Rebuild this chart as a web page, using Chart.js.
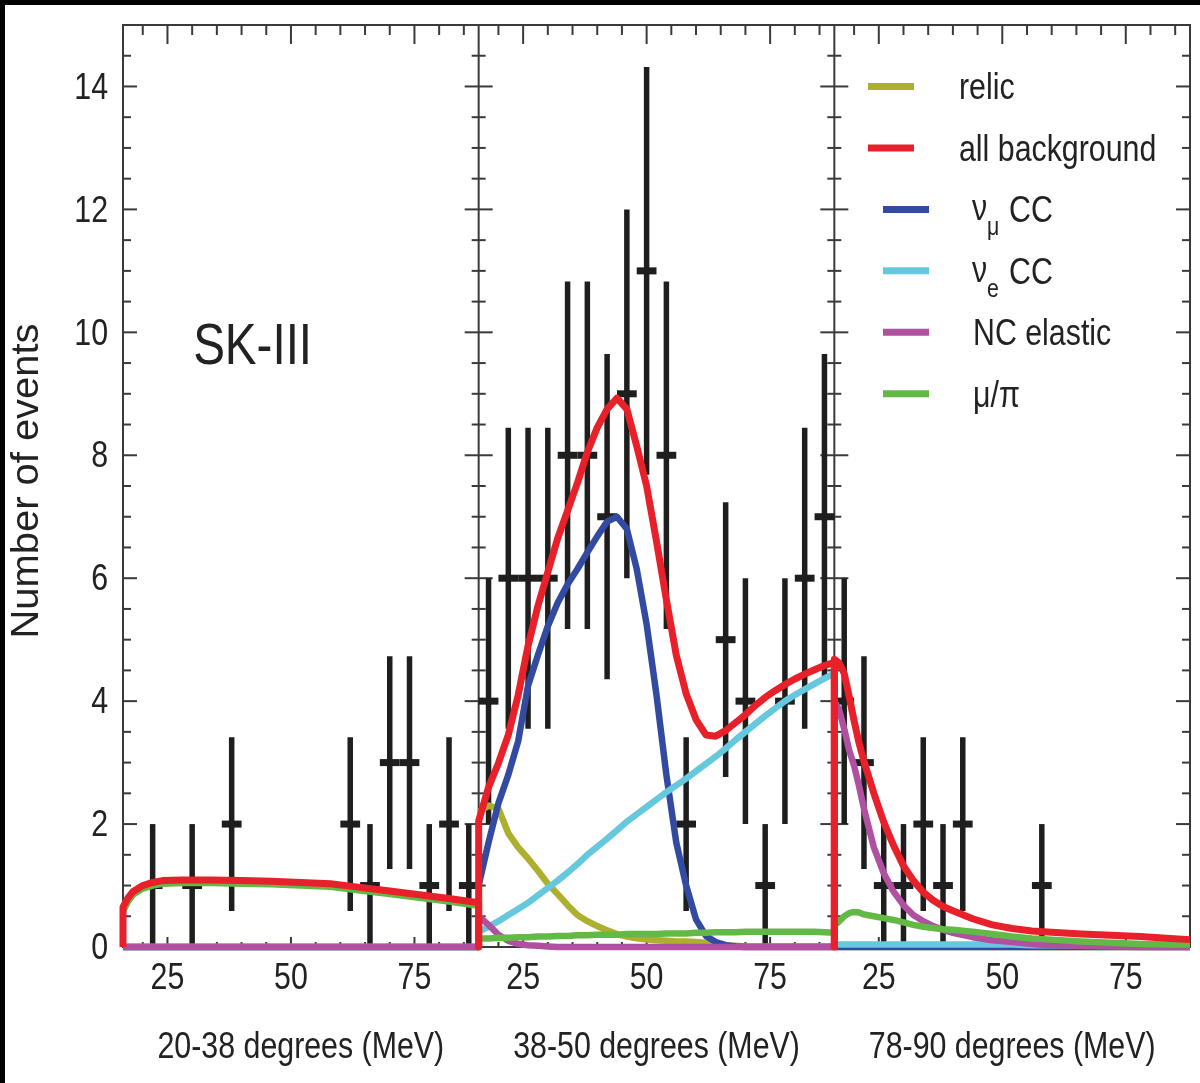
<!DOCTYPE html>
<html lang="en">
<head>
<meta charset="UTF-8">
<title>SK-III</title>
<style>
  html, body { margin: 0; padding: 0; background: #fff; }
  #wrap { position: relative; width: 1200px; height: 1083px; }
</style>
<script src="https://cdn.jsdelivr.net/npm/chart.js@4"></script>
</head>
<body>
<div id="wrap"><canvas id="viz" width="1200" height="1083"></canvas></div>
<script>
// three angle bins drawn side by side, each one spans 16-88 MeV
const panelTitles = ['20-38 degrees (MeV)', '38-50 degrees (MeV)', '78-90 degrees (MeV)']
const eLow = 16
const eHigh = 88
const xTickLabels = [25, 50, 75]
const yTickLabels = [0, 2, 4, 6, 8, 10, 12, 14]

// observed events, 4 MeV bins
const binCentres = [18, 22, 26, 30, 34, 38, 42, 46, 50, 54, 58, 62, 66, 70, 74, 78, 82, 86]
const countsA = [0, 1, 0, 1, 0, 2, 0, 0, 0, 0, 0, 2, 1, 3, 3, 1, 2, 1]
const countsB = [4, 6, 6, 6, 8, 8, 7, 9, 11, 8, 2, 0, 5, 4, 1, 4, 6, 7]
const countsC = [4, 3, 1, 1, 2, 1, 2, 0, 0, 0, 1, 0, 0, 0, 0, 0, 0, 0]

// expected spectra, 20-38 degrees
const energyA = [16, 17, 18, 20, 22, 24, 28, 34, 40, 46, 52, 58, 64, 70, 76, 82, 88]
const relicA  = [0, 0, 0, 0, 0, 0, 0, 0, 0, 0, 0, 0, 0, 0, 0, 0, 0]
const allBgA  = [0.65, 0.80, 0.90, 1.00, 1.05, 1.08, 1.09, 1.09, 1.08, 1.07, 1.05, 1.03, 0.97, 0.91, 0.85, 0.79, 0.72]
const numuA   = [0, 0, 0, 0, 0, 0, 0, 0, 0, 0, 0, 0, 0, 0, 0, 0, 0]
const nueA    = [0, 0, 0, 0, 0, 0, 0, 0, 0, 0, 0, 0, 0, 0, 0, 0, 0]
const ncA     = [0, 0, 0, 0, 0, 0, 0, 0, 0, 0, 0, 0, 0, 0, 0, 0, 0]
const muPiA   = [0.58, 0.74, 0.85, 0.95, 1.00, 1.03, 1.04, 1.04, 1.03, 1.02, 1.00, 0.98, 0.92, 0.86, 0.80, 0.74, 0.67]

// expected spectra, 38-50 degrees
const energyB = [16, 18, 20, 22, 24, 26, 28, 30, 32, 34, 36, 38, 40, 42, 44, 46, 48, 50, 52, 54,
                 56, 58, 60, 62, 64, 66, 68, 70, 72, 74, 76, 78, 80, 82, 84, 86, 88]
const relicB  = [2.2, 2.3, 2.25, 1.85, 1.62, 1.44, 1.24, 1.03, 0.86, 0.68, 0.52, 0.42, 0.34, 0.27, 0.21, 0.17, 0.14, 0.12, 0.11, 0.10,
                 0.09, 0.09, 0.08, 0.07, 0.05, 0.03, 0.02, 0.01, 0.01, 0.01, 0.01, 0.01, 0.01, 0.01, 0.01, 0.01, 0.01]
const allBgB  = [2.05, 2.6, 2.99, 3.45, 4.1, 4.9, 5.55, 6.1, 6.65, 7.1, 7.55, 8.05, 8.45, 8.75, 8.93, 8.75, 8.15, 7.5, 6.6, 5.65,
                 4.75, 4.12, 3.7, 3.45, 3.43, 3.52, 3.65, 3.78, 3.93, 4.06, 4.17, 4.27, 4.36, 4.44, 4.51, 4.58, 4.63]
const numuB   = [1.0, 1.7, 2.34, 2.8, 3.35, 4.25, 4.75, 5.22, 5.6, 5.9, 6.15, 6.42, 6.68, 6.92, 7.0, 6.8, 6.15, 5.25, 4.1, 2.8,
                 1.7, 1.0, 0.45, 0.18, 0.08, 0.03, 0.01, 0, 0, 0, 0, 0, 0, 0, 0, 0, 0]
const nueB    = [0.25, 0.33, 0.42, 0.52, 0.62, 0.72, 0.84, 0.96, 1.08, 1.21, 1.35, 1.5, 1.63, 1.76, 1.9, 2.04, 2.16, 2.28, 2.4, 2.52,
                 2.63, 2.74, 2.86, 2.98, 3.1, 3.23, 3.37, 3.5, 3.63, 3.76, 3.88, 4.0, 4.1, 4.19, 4.28, 4.37, 4.45]
const ncB     = [0.5, 0.36, 0.2, 0.1, 0.05, 0.03, 0.02, 0.01, 0, 0, 0, 0, 0, 0, 0, 0, 0, 0, 0, 0,
                 0, 0, 0, 0, 0, 0, 0, 0, 0, 0, 0, 0, 0, 0, 0, 0, 0]
const muPiB   = [0.14, 0.14, 0.15, 0.15, 0.16, 0.16, 0.17, 0.17, 0.18, 0.18, 0.19, 0.19, 0.2, 0.2, 0.2, 0.21, 0.21, 0.21, 0.21, 0.22,
                 0.22, 0.22, 0.23, 0.23, 0.24, 0.24, 0.24, 0.25, 0.25, 0.25, 0.25, 0.25, 0.25, 0.25, 0.25, 0.24, 0.23]

// expected spectra, 78-90 degrees
const energyC = [16, 17, 18, 19, 20, 21, 22, 24, 26, 28, 30, 32, 34, 36, 38, 40, 44, 48, 52, 56, 60, 66, 72, 78, 84, 88]
const relicC  = [0, 0, 0, 0, 0, 0, 0, 0, 0, 0, 0, 0, 0, 0, 0, 0, 0, 0, 0, 0, 0, 0, 0, 0, 0, 0]
const allBgC  = [4.68, 4.62, 4.45, 4.08, 3.68, 3.32, 3.02, 2.5, 2.03, 1.65, 1.32, 1.08, 0.89, 0.76, 0.66, 0.59, 0.46, 0.36, 0.30, 0.26,
                 0.24, 0.21, 0.19, 0.17, 0.14, 0.12]
const numuC   = [0, 0, 0, 0, 0, 0, 0, 0, 0, 0, 0, 0, 0, 0, 0, 0, 0, 0, 0, 0, 0, 0, 0, 0, 0, 0]
const nueC    = [0.04, 0.04, 0.04, 0.04, 0.04, 0.04, 0.04, 0.04, 0.04, 0.04, 0.04, 0.04, 0.04, 0.04, 0.04, 0.04, 0.04, 0.04, 0.04, 0.03,
                 0.03, 0.03, 0.02, 0.02, 0.02, 0.02]
const ncC     = [4.0, 3.85, 3.55, 3.2, 2.95, 2.62, 2.25, 1.62, 1.2, 0.9, 0.68, 0.52, 0.42, 0.34, 0.28, 0.23, 0.16, 0.11, 0.08, 0.05,
                 0.03, 0.02, 0.01, 0, 0, 0]
const muPiC   = [0.35, 0.42, 0.5, 0.55, 0.57, 0.56, 0.53, 0.5, 0.47, 0.44, 0.4, 0.36, 0.33, 0.31, 0.29, 0.28, 0.25, 0.21, 0.17, 0.14,
                 0.12, 0.09, 0.07, 0.05, 0.04, 0.04]

const sans = '"Liberation Sans", Arial, Helvetica, sans-serif'
const inkColor = '#222'
const frameColor = '#3a3a3a'
const pointColor = '#1e1e1e'

// legend order; drawing order comes from `order` (lower = on top)
const components = [
  { key: 'relic', label: 'relic', color: '#acb02e', order: 6, width: 6.5 },
  { key: 'allBg', label: 'all background', color: '#e8202a', order: 1, width: 7 },
  { key: 'numu', label: 'ν', sub: 'μ', rest: 'CC', color: '#324ba0', order: 5, width: 6.5 },
  { key: 'nue', label: 'ν', sub: 'e', rest: 'CC', color: '#66c8dc', order: 4, width: 6.5 },
  { key: 'nc', label: 'NC elastic', color: '#b050a0', order: 3, width: 6.5 },
  { key: 'muPi', label: 'μ/π', color: '#63b946', order: 2, width: 6.5 }
]

const panels = [
  { energy: energyA, counts: countsA, closeLeft: true, closeRight: true,
    curves: { relic: relicA, allBg: allBgA, numu: numuA, nue: nueA, nc: ncA, muPi: muPiA } },
  { energy: energyB, counts: countsB, closeLeft: true, closeRight: true,
    curves: { relic: relicB, allBg: allBgB, numu: numuB, nue: nueB, nc: ncB, muPi: muPiB } },
  { energy: energyC, counts: countsC, closeLeft: true, closeRight: false,
    curves: { relic: relicC, allBg: allBgC, numu: numuC, nue: nueC, nc: ncC, muPi: muPiC } }
]

const span = eHigh - eLow
const shift = p => p * span   // panel p sits span MeV further right on the shared axis

const datasets = []
panels.forEach((panel, p) => {
  components.forEach(c => {
    const pts = panel.energy.map((e, i) => ({ x: e + shift(p), y: panel.curves[c.key][i] }))
    // the total-background histogram outline drops to zero at the panel edges
    if (c.key === 'allBg') {
      if (panel.closeLeft) pts.unshift({ x: panel.energy[0] + shift(p), y: 0 })
      if (panel.closeRight) pts.push({ x: panel.energy[panel.energy.length - 1] + shift(p), y: 0 })
    }
    datasets.push({
      label: c.label,
      data: pts,
      borderColor: c.color,
      borderWidth: c.width,
      borderJoinStyle: 'round',
      pointRadius: 0,
      tension: 0,
      fill: false,
      order: c.order,
      clip: 8
    })
  })
})

function line(ctx, x1, y1, x2, y2) {
  ctx.beginPath()
  ctx.moveTo(x1, y1)
  ctx.lineTo(x2, y2)
  ctx.stroke()
}

// the figure uses a condensed Helvetica, so squeeze Liberation Sans sideways
function narrowText(ctx, text, x, y, size, align, baseline, squeeze = 0.82) {
  ctx.save()
  ctx.font = `${size}px ${sans}`
  ctx.textAlign = align
  ctx.textBaseline = baseline
  ctx.translate(x, y)
  ctx.scale(squeeze, 1)
  ctx.fillText(text, 0, 0)
  ctx.restore()
}

const decorations = {
  id: 'decorations',
  beforeDatasetsDraw(chart) {
    const { ctx, chartArea: a, scales: { x, y } } = chart
    ctx.save()
    ctx.strokeStyle = frameColor
    ctx.lineWidth = 2
    ctx.strokeRect(a.left, a.top, a.right - a.left, a.bottom - a.top)

    // panel dividers
    const dividers = [1, 2].map(p => x.getPixelForValue(eLow + shift(p)))
    dividers.forEach(px => line(ctx, px, a.top, px, a.bottom))

    // energy ticks, top and bottom, every 5 MeV
    panels.forEach((panel, p) => {
      for (let e = 20; e < eHigh; e += 5) {
        const px = x.getPixelForValue(e + shift(p))
        const major = e % 25 === 0
        line(ctx, px, a.top, px, a.top + (major ? 19 : 10))
        line(ctx, px, a.bottom, px, a.bottom - (major ? 10 : 5))
      }
    })

    // count ticks every 0.5, majors every 2
    for (let v = 0.5; v < 15; v += 0.5) {
      const py = y.getPixelForValue(v)
      const major = v % 2 === 0
      const len = major ? 14 : 8
      line(ctx, a.left, py, a.left + len, py)
      line(ctx, a.right, py, a.right - len, py)
      dividers.forEach(px => line(ctx, px - (major ? 14 : 7), py, px + (major ? 14 : 7), py))
    }

    // data points with sqrt(n) error bars
    ctx.strokeStyle = pointColor
    ctx.lineCap = 'butt'
    panels.forEach((panel, p) => {
      panel.counts.forEach((n, i) => {
        if (n === 0) return
        const e = binCentres[i] + shift(p)
        const err = Math.sqrt(n)
        const px = x.getPixelForValue(e)
        ctx.lineWidth = 5.5
        line(ctx, px, y.getPixelForValue(n - err), px, y.getPixelForValue(n + err))
        const py = y.getPixelForValue(n)
        ctx.lineWidth = 7
        line(ctx, x.getPixelForValue(e - 2), py, x.getPixelForValue(e + 2), py)
      })
    })
    ctx.restore()
  },
  afterDraw(chart) {
    const { ctx, chartArea: a, scales: { x, y } } = chart
    ctx.save()
    ctx.fillStyle = inkColor

    // tick labels
    yTickLabels.forEach(v => narrowText(ctx, String(v), a.left - 15, y.getPixelForValue(v) + 2, 37, 'right', 'middle'))
    panels.forEach((panel, p) => {
      xTickLabels.forEach(v => narrowText(ctx, String(v), x.getPixelForValue(v + shift(p)), a.bottom + 32, 37, 'center', 'middle'))
      // panel axis titles
      narrowText(ctx, panelTitles[p], x.getPixelForValue((eLow + eHigh) / 2 + shift(p)), a.bottom + 111, 37, 'center', 'alphabetic')
    })

    // y axis title, plain width
    ctx.save()
    ctx.translate(28, (a.top + a.bottom) / 2 - 5)
    ctx.rotate(-Math.PI / 2)
    ctx.scale(1.05, 1)
    ctx.font = `38px ${sans}`
    ctx.textAlign = 'center'
    ctx.textBaseline = 'middle'
    ctx.fillText('Number of events', 0, 0)
    ctx.restore()

    // experiment label
    narrowText(ctx, 'SK-III', x.getPixelForValue(30.2), y.getPixelForValue(9.48), 58, 'left', 'alphabetic')

    // legend, one row per count unit from 14 down
    components.forEach((c, i) => {
      const rowY = y.getPixelForValue(14 - i)
      const indent = c.sub || c.key === 'nc' || c.key === 'muPi' ? 15 : 0
      ctx.strokeStyle = c.color
      ctx.lineWidth = 7
      line(ctx, 868 + indent, rowY, 914 + indent, rowY)
      if (c.sub) {
        narrowText(ctx, c.label, 972, rowY + 11, 37, 'left', 'alphabetic')
        narrowText(ctx, c.sub, 987, rowY + 26, 26, 'left', 'alphabetic')
        narrowText(ctx, c.rest, 1009, rowY + 13, 37, 'left', 'alphabetic')
      } else {
        narrowText(ctx, c.label, indent ? 973 : 959, rowY + 13, 37, 'left', 'alphabetic')
      }
    })

    // black scan border on the top and left edges
    ctx.fillStyle = '#000'
    ctx.fillRect(0, 0, chart.width, 5)
    ctx.fillRect(0, 0, 5, chart.height)
    ctx.restore()
  }
}

new Chart(document.getElementById('viz'), {
  type: 'line',
  data: { datasets },
  options: {
    responsive: false,
    animation: false,
    devicePixelRatio: 1,
    layout: { padding: { left: 0, right: 10, top: 25, bottom: 0 } },
    plugins: { legend: { display: false }, tooltip: { enabled: false } },
    scales: {
      x: {
        type: 'linear',
        min: eLow,
        max: eHigh + 2 * span,
        border: { display: false },
        grid: { display: false, drawTicks: false },
        ticks: { display: false },
        afterFit: scale => { scale.height = 136 }
      },
      y: {
        min: 0,
        max: 15,
        border: { display: false },
        grid: { display: false, drawTicks: false },
        ticks: { display: false },
        afterFit: scale => { scale.width = 123 }
      }
    }
  },
  plugins: [decorations]
})
</script>
</body>
</html>
